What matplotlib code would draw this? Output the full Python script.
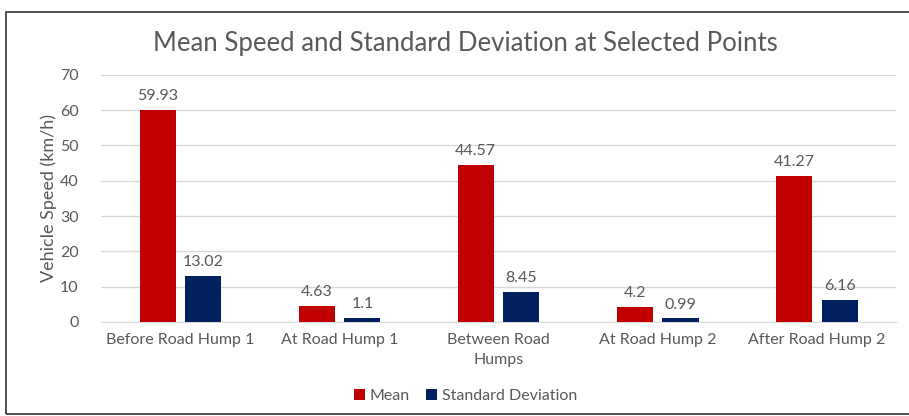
import matplotlib
matplotlib.use('Agg')
import numpy as np
import matplotlib.pyplot as plt
from matplotlib.patches import Rectangle

categories = ['Before Road Hump 1', 'At Road Hump 1', 'Between Road\nHumps',
              'At Road Hump 2', 'After Road Hump 2']
mean_speed = [59.93, 4.63, 44.57, 4.2, 41.27]
std_dev = [13.02, 1.1, 8.45, 0.99, 6.16]
mean_labels = ['59.93', '4.63', '44.57', '4.2', '41.27']
std_labels = ['13.02', '1.1', '8.45', '0.99', '6.16']

plt.rcParams['font.family'] = ['Lato', 'DejaVu Sans']
text_color = '#595959'

fig = plt.figure(figsize=(9.09, 4.16), dpi=100)
ax = fig.add_axes([0.111, 0.226, 0.875, 0.594])

x = np.arange(len(categories))
w = 0.227
gap = 0.03
b1 = ax.bar(x - w / 2 - gap, mean_speed, w, color='#C00000', label='Mean', zorder=3)
b2 = ax.bar(x + w / 2 + gap, std_dev, w, color='#002060', label='Standard Deviation', zorder=3)

for bars, labels in [(b1, mean_labels), (b2, std_labels)]:
    for rect, lab in zip(bars, labels):
        ax.annotate(lab, (rect.get_x() + rect.get_width() / 2, rect.get_height()),
                    xytext=(0, 5), textcoords='offset points', ha='center', va='bottom',
                    fontsize=11.5, color=text_color)

ax.set_xlim(-0.5, len(categories) - 0.5)
ax.set_ylim(0, 70)
ax.set_yticks(range(0, 71, 10))
ax.set_xticks(x)
ax.set_xticklabels(categories, linespacing=1.5)
ax.tick_params(axis='both', length=0, labelsize=11.5, labelcolor=text_color)
ax.tick_params(axis='y', pad=16)
ax.tick_params(axis='x', pad=8)
ax.grid(axis='y', color='#D9D9D9', linewidth=1, zorder=0)
for s in ['top', 'right', 'left']:
    ax.spines[s].set_visible(False)
ax.spines['bottom'].set_color('#D9D9D9')
ax.set_ylabel('Vehicle Speed (km/h)', fontsize=13, color=text_color, labelpad=2)

fig.text(0.512, 0.895, 'Mean Speed and Standard Deviation at Selected Points',
         ha='center', va='center', fontsize=18.5, color=text_color)

fig.legend(loc='center', bbox_to_anchor=(0.512, 0.048), ncol=2, frameon=False,
           fontsize=11.5, labelcolor=text_color, handlelength=0.7, handleheight=0.7,
           handletextpad=0.3, columnspacing=1.0)

fig.patches.append(Rectangle((6 / 909, 2 / 416), 1.0, 402 / 416, transform=fig.transFigure,
                             fill=False, edgecolor='#333333', linewidth=1.2))

fig.savefig('out.png', dpi=100)
